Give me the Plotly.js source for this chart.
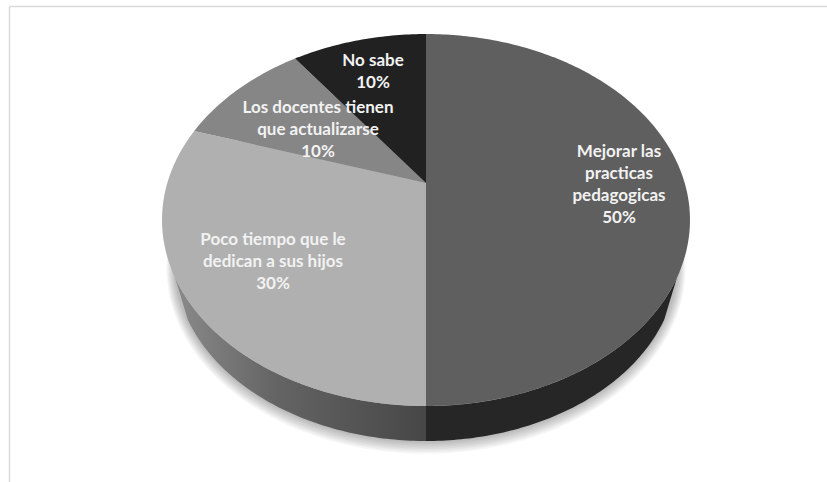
<!DOCTYPE html>
<html><head><meta charset="utf-8">
<script src="https://cdn.plot.ly/plotly-3.0.1.min.js"></script>
<style>html,body{margin:0;padding:0;background:#fff}#c{width:827px;height:482px}</style>
</head><body><div id="c"></div>
<script>
const categories = ["Mejorar las practicas pedagogicas","Poco tiempo que le dedican a sus hijos","Los docentes tienen que actualizarse","No sabe"];
const values = [50,30,10,10];
const sliceColors = ["#5f5f5f","#b0b0b0","#868686","#212121"];
const labelLines = [["Mejorar las","practicas","pedagogicas","50%"],["Poco tiempo que le","dedican a sus hijos","30%"],["Los docentes tienen","que actualizarse","10%"],["No sabe","10%"]];
const labelCentreX = [619,273,318,373];
const labelFirstY = [153,241,109,62];
const lineStep = 22;

// pie geometry in the pixel-sized axis space
const apex = {x:426,y:183}, A = 258.7, B = 178.6, K = 0.199;
const project = (t) => { // t = fraction of the pie, clockwise from the top
  const th = 2*Math.PI*t, d = 1 + K*Math.cos(th);
  return [apex.x + A*Math.sin(th)/d, apex.y - B*Math.cos(th)/d];
};
const sum = values.reduce((a,b)=>a+b,0);
const traces = [];
const poly = (pts, color, extra) => traces.push(Object.assign({type:'scatter',mode:'none',fill:'toself',fillcolor:color,
  x:pts.map(p=>p[0]),y:pts.map(p=>p[1]),hoverinfo:'skip',showlegend:false},extra||{}));

// lower rim: same ellipse, reduced and shifted
const cx=426, cy=220, rx=264, ry=186, S=0.95, rimBottom=441;
const low = (a, grow=0, dy=0) => [cx+(rx*S+grow)*Math.sin(a), rimBottom-ry*S+dy+(ry*S+grow)*Math.cos(a)];
const arc = (f,a0,a1,n=80)=>Array.from({length:n+1},(_,i)=>f(a0+(a1-a0)*i/n));
const top_ = a => [cx+rx*Math.sin(a), cy+ry*Math.cos(a)];

// soft shadow below the pie
for (let i=8;i>=1;i--) poly(arc(a=>low(a,i*1.1,i*0.5),0,2*Math.PI,160),'rgba(0,0,0,0.035)');

// walls
const R0 = Math.acos((278-cy)/ry);   // angle where the rim meets the top outline
const wall = (a0,a1)=>arc(low,a0,a1).concat(arc(top_,a1,a0));
poly(wall(-R0,0),'#000',{fillgradient:{type:'horizontal',colorscale:[[0,'#8a8a8a'],[0.4,'#646464'],[1,'#474747']]}});
poly(wall(0,R0),'#262626');

// top slices
let run=0;
values.forEach((v,i)=>{
  const t0=run/sum, t1=(run+v)/sum; run+=v;
  const n=Math.max(8,Math.round(v*4));
  const pts=[[apex.x,apex.y]];
  for(let j=0;j<=n;j++) pts.push(project(t0+(t1-t0)*j/n));
  pts.push([apex.x,apex.y]);
  poly(pts,sliceColors[i]);
});

// labels, one text point per line
const tx=[],ty=[],tt=[];
labelLines.forEach((ls,i)=>ls.forEach((s,j)=>{tx.push(labelCentreX[i]);ty.push(labelFirstY[i]+j*lineStep);tt.push(s);}));
traces.push({type:'scatter',mode:'text',x:tx,y:ty,text:tt,textposition:'middle center',hoverinfo:'skip',showlegend:false,
  textfont:{family:'Lato, sans-serif',size:17,weight:700,color:'#f2f2f2'}});

const layout={width:827,height:482,margin:{l:0,r:0,t:0,b:0},paper_bgcolor:'#fff',plot_bgcolor:'#fff',showlegend:false,
  xaxis:{range:[0,827],visible:false,fixedrange:true},yaxis:{range:[482,0],visible:false,fixedrange:true},
  shapes:[
    {type:'line',xref:'paper',yref:'paper',x0:9.5/827,x1:1,y0:1-6.5/482,y1:1-6.5/482,line:{color:'#d9d9d9',width:1.5}},
    {type:'line',xref:'paper',yref:'paper',x0:9.5/827,x1:9.5/827,y0:0,y1:1-6.5/482,line:{color:'#d9d9d9',width:1.5}}
  ]};
Plotly.newPlot('c',traces,layout,{displayModeBar:false,staticPlot:true});
</script></body></html>
